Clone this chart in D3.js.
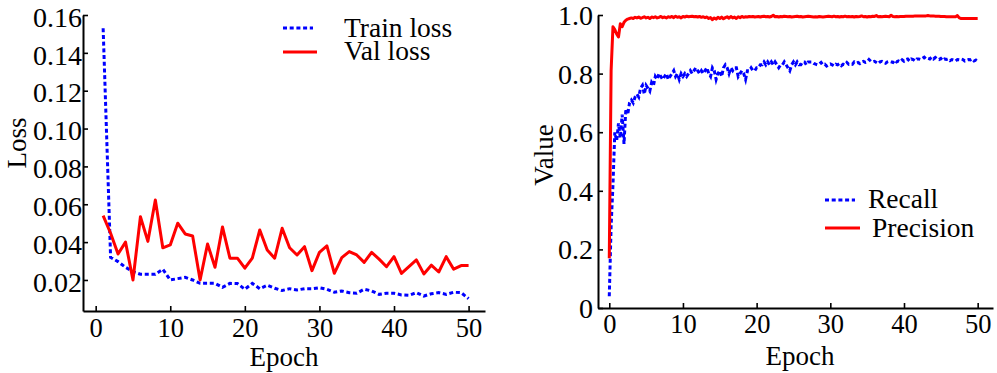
<!DOCTYPE html>
<html>
<head>
<meta charset="utf-8">
<script src="https://cdn.jsdelivr.net/npm/d3@7"></script>
<style>
  body { margin: 0; background: #fff; }
  svg { display: block; }
  text { font-family: "Liberation Serif", "Times New Roman", serif; fill: #000; }
</style>
</head>
<body>
<svg id="chart" width="997" height="373"></svg>
<script>
// ---- left panel: loss per epoch (1..50)
var lossEpochs = d3.range(1, 51);
var trainLoss = [0.153, 0.032, 0.0297, 0.0267, 0.0244, 0.023, 0.023, 0.023, 0.0257, 0.020,
                 0.0207, 0.0214, 0.020, 0.0182, 0.0182, 0.0182, 0.0161, 0.0182, 0.0181, 0.0151,
                 0.0182, 0.0154, 0.0172, 0.0156, 0.0144, 0.0154, 0.0147, 0.0154, 0.0154, 0.0159,
                 0.0151, 0.0135, 0.0142, 0.0133, 0.013, 0.0151, 0.0142, 0.0124, 0.013, 0.013,
                 0.0121, 0.0119, 0.0133, 0.0115, 0.0127, 0.0133, 0.0124, 0.0135, 0.0133, 0.0101];
var valLoss = [0.054, 0.0447, 0.0337, 0.040, 0.020, 0.0534, 0.0404, 0.0623, 0.037, 0.0385,
               0.050, 0.0443, 0.0432, 0.020, 0.039, 0.0267, 0.048, 0.0315, 0.0315, 0.0262,
               0.0315, 0.0464, 0.0358, 0.0315, 0.0473, 0.037, 0.0332, 0.0376, 0.0249, 0.0346,
               0.038, 0.0235, 0.0318, 0.035, 0.0332, 0.0293, 0.0346, 0.031, 0.027, 0.0323,
               0.0235, 0.027, 0.0306, 0.0232, 0.0278, 0.0242, 0.0323, 0.0257, 0.0276, 0.0276];
var lossTicks = [0.02, 0.04, 0.06, 0.08, 0.10, 0.12, 0.14, 0.16];
var epochTicks = [0, 10, 20, 30, 40, 50];

// ---- right panel: recall / precision every quarter epoch (0..50)
var recall = [
  0.04, 0.28, 0.42, 0.60,   0.57, 0.63, 0.58, 0.66,   0.56, 0.68, 0.66, 0.70,   0.71, 0.70, 0.72, 0.73,
  0.72, 0.75, 0.76, 0.73,   0.76, 0.75, 0.74, 0.77,   0.76, 0.79, 0.78, 0.80,   0.79, 0.78, 0.79, 0.80,
  0.78, 0.79, 0.80, 0.81,   0.79, 0.80, 0.78, 0.80,   0.79, 0.80, 0.79, 0.80,   0.81, 0.80, 0.81, 0.82,
  0.81, 0.80, 0.81, 0.80,   0.81, 0.82, 0.80, 0.79,   0.82, 0.81, 0.78, 0.80,   0.81, 0.79, 0.82, 0.83,
  0.82, 0.80, 0.82, 0.81,   0.82, 0.82, 0.79, 0.80,   0.81, 0.80, 0.78, 0.81,   0.81, 0.82, 0.81, 0.81,
  0.82, 0.82, 0.83, 0.83,   0.84, 0.83, 0.84, 0.83,   0.84, 0.83, 0.84, 0.83,   0.82, 0.83, 0.83, 0.84,
  0.83, 0.82, 0.81, 0.83,   0.84, 0.83, 0.84, 0.83,   0.83, 0.84, 0.84, 0.83,   0.84, 0.84, 0.84, 0.835,
  0.832, 0.83, 0.833, 0.838, 0.83, 0.832, 0.826, 0.83,  0.833, 0.83, 0.826, 0.832, 0.83, 0.834, 0.827, 0.832,
  0.83, 0.838, 0.832, 0.834, 0.832, 0.84, 0.836, 0.838, 0.834, 0.84, 0.842, 0.838, 0.84, 0.848, 0.842, 0.84,
  0.842, 0.838, 0.834, 0.84,  0.842, 0.838, 0.835, 0.84,  0.842, 0.84, 0.838, 0.846,  0.84, 0.843, 0.84, 0.847,
  0.842, 0.848, 0.85, 0.843,  0.85, 0.848, 0.843, 0.85,  0.85, 0.848, 0.852, 0.856,  0.85, 0.852, 0.85, 0.856,
  0.85, 0.855, 0.85, 0.848,  0.852, 0.845, 0.85, 0.848,  0.85, 0.844, 0.848, 0.846,  0.843, 0.848, 0.847, 0.85,
  0.848, 0.843, 0.846, 0.848, 0.847, 0.85, 0.843, 0.846,
  0.84
];
var precision = [
  0.17, 0.81, 0.96, 0.95,   0.935, 0.925, 0.97, 0.96,   0.975, 0.982, 0.986, 0.988,   0.99, 0.988, 0.992, 0.99,
  0.993, 0.989, 0.991, 0.994, 0.99, 0.992, 0.988, 0.993, 0.991, 0.994, 0.99, 0.992,   0.995, 0.991, 0.993, 0.99,
  0.994, 0.992, 0.995, 0.991, 0.996, 0.992, 0.994, 0.99,  0.995, 0.993, 0.996, 0.994,  0.995, 0.996, 0.994, 0.995,
  0.993, 0.995, 0.992, 0.994, 0.991, 0.993, 0.988, 0.991, 0.984, 0.99, 0.986, 0.992,   0.988, 0.993, 0.987, 0.991,
  0.994, 0.989, 0.995, 0.99,  0.993, 0.988, 0.994, 0.991, 0.995, 0.992, 0.994, 0.993,  0.995, 0.994, 0.995, 0.993,
  0.994, 0.995, 0.993, 0.995, 0.996, 0.994, 0.995, 0.993, 0.995, 0.999, 0.994, 0.995,  0.993, 0.995, 0.994, 0.996,
  0.995, 0.994, 0.995, 0.993, 0.994, 0.995, 0.996, 0.994, 0.995, 0.993, 0.994, 0.995,  0.996, 0.995, 0.994, 0.993,
  0.994, 0.993, 0.995, 0.994, 0.993, 0.994, 0.995, 0.996, 0.995, 0.994, 0.996, 0.994,  0.995, 0.993, 0.995, 0.994,
  0.996, 0.994, 0.995, 0.994, 0.995, 0.993, 0.995, 0.994, 0.995, 0.997, 0.994, 0.995,  0.993, 0.995, 0.994, 0.996,
  0.995, 0.998, 0.994, 0.995, 0.994, 0.995, 0.996, 0.995, 0.994, 0.999, 0.995, 0.994,  0.995, 0.994, 0.995, 0.995,
  0.995, 0.996, 0.996, 0.996, 0.996, 0.996, 0.997, 0.997, 0.997, 0.997, 0.997, 0.997,  0.997, 0.998, 0.997, 0.997,
  0.997, 0.996, 0.996, 0.996, 0.995, 0.995, 0.995, 0.994, 0.994, 0.994, 0.994, 0.994,  0.994, 0.998, 0.99, 0.988,
  0.988, 0.988, 0.988, 0.988, 0.988, 0.988, 0.988, 0.988,
  0.988
];
var valueTicks = [0, 0.2, 0.4, 0.6, 0.8, 1.0];

var BLUE = "#0000ff", RED = "#ff0000";
var DASH = "4,2.7";

var svg = d3.select("#chart");

function styleAxis(g, fontSize) {
    g.attr("font-family", null).attr("font-size", null);
    g.select(".domain").attr("stroke", "#000").attr("stroke-width", 2);
    g.selectAll(".tick line").attr("stroke", "#000").attr("stroke-width", 1.6);
    g.selectAll(".tick text").style("font-size", fontSize + "px");
}

// ================= left: Loss =================
var xL = d3.scaleLinear().domain([-1.7, 52.2]).range([83, 485]);
var yL = d3.scaleLinear().domain([0.0036, 0.16]).range([311, 15]);

var gxL = svg.append("g")
    .attr("transform", "translate(0,311)")
    .call(d3.axisBottom(xL).tickValues(epochTicks).tickSize(-5).tickSizeOuter(0));
styleAxis(gxL, 26.5);
gxL.selectAll(".tick text").attr("y", 26).attr("dy", null);

var gyL = svg.append("g")
    .attr("transform", "translate(83,0)")
    .call(d3.axisLeft(yL).tickValues(lossTicks).tickFormat(d3.format(".2f"))
        .tickSize(-5).tickSizeOuter(0).tickPadding(1));
styleAxis(gyL, 28);
gyL.selectAll(".tick text").attr("dy", "0.4em");

var lossLine = function(vals) {
    return d3.line()
        .x(function(d, i) { return xL(lossEpochs[i]); })
        .y(function(d) { return yL(d); })(vals);
};

svg.append("path")
    .attr("d", lossLine(trainLoss))
    .attr("fill", "none").attr("stroke", BLUE).attr("stroke-width", 3)
    .attr("stroke-dasharray", DASH);
svg.append("path")
    .attr("d", lossLine(valLoss))
    .attr("fill", "none").attr("stroke", RED).attr("stroke-width", 3)
    .attr("stroke-linejoin", "round");

svg.append("text").attr("x", 284).attr("y", 366).attr("text-anchor", "middle")
    .style("font-size", "27px").text("Epoch");
svg.append("text").attr("transform", "rotate(-90)").attr("x", -143).attr("y", 26)
    .attr("text-anchor", "middle").style("font-size", "27px").text("Loss");

// legend
svg.append("line").attr("x1", 283).attr("x2", 313).attr("y1", 28).attr("y2", 28)
    .attr("stroke", BLUE).attr("stroke-width", 3).attr("stroke-dasharray", DASH);
svg.append("text").attr("x", 344).attr("y", 37).style("font-size", "27.5px").text("Train loss");
svg.append("line").attr("x1", 283).attr("x2", 317).attr("y1", 52).attr("y2", 52)
    .attr("stroke", RED).attr("stroke-width", 3);
svg.append("text").attr("x", 344).attr("y", 60).style("font-size", "27.5px").text("Val loss");

// ================= right: Recall / Precision =================
var xR = d3.scaleLinear().domain([-1.53, 52.08]).range([598, 993]);
var yR = d3.scaleLinear().domain([0, 1]).range([308, 15]);

var gxR = svg.append("g")
    .attr("transform", "translate(0,308)")
    .call(d3.axisBottom(xR).tickValues(epochTicks).tickSize(-5).tickSizeOuter(0));
styleAxis(gxR, 26.5);
gxR.selectAll(".tick text").attr("y", 25).attr("dy", null);

var gyR = svg.append("g")
    .attr("transform", "translate(598,0)")
    .call(d3.axisLeft(yR).tickValues(valueTicks)
        .tickFormat(function(d) { return d === 0 ? "0" : d.toFixed(1); })
        .tickSize(-5).tickSizeOuter(0).tickPadding(5));
styleAxis(gyR, 28);
gyR.selectAll(".tick text").attr("dy", "0.34em");

var stepLine = d3.line()
    .x(function(d, i) { return xR(i * 0.25); })
    .y(function(d) { return yR(d); });

svg.append("path")
    .attr("d", stepLine(recall))
    .attr("fill", "none").attr("stroke", BLUE).attr("stroke-width", 3)
    .attr("stroke-dasharray", DASH);
svg.append("path")
    .attr("d", stepLine(precision))
    .attr("fill", "none").attr("stroke", RED).attr("stroke-width", 3)
    .attr("stroke-linejoin", "round");

svg.append("text").attr("x", 800).attr("y", 365).attr("text-anchor", "middle")
    .style("font-size", "27px").text("Epoch");
svg.append("text").attr("transform", "rotate(-90)").attr("x", -155).attr("y", 553)
    .attr("text-anchor", "middle").style("font-size", "27px").text("Value");

// legend
svg.append("line").attr("x1", 825).attr("x2", 855).attr("y1", 200).attr("y2", 200)
    .attr("stroke", BLUE).attr("stroke-width", 3).attr("stroke-dasharray", DASH);
svg.append("text").attr("x", 868).attr("y", 208).style("font-size", "27.5px").text("Recall");
svg.append("line").attr("x1", 825).attr("x2", 860).attr("y1", 228).attr("y2", 228)
    .attr("stroke", RED).attr("stroke-width", 3);
svg.append("text").attr("x", 872).attr("y", 237).style("font-size", "27.5px").text("Precision");
</script>
</body>
</html>
